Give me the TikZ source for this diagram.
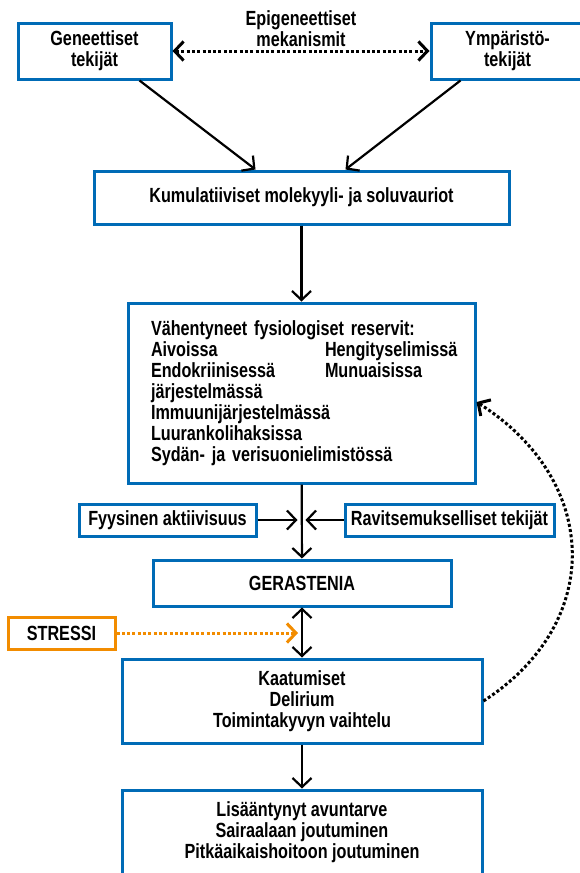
\documentclass[tikz,border=0pt]{standalone}
\usepackage{fontspec}
\setmainfont{Liberation Sans}[FakeStretch=0.79]
\usetikzlibrary{arrows.meta,positioning}
\definecolor{sininen}{RGB}{0,107,182}
\definecolor{oranssi}{RGB}{242,140,0}
\begin{document}
\begin{tikzpicture}[
	x=1pt,y=-1pt,
	>={Straight Barb[length=9pt,width=19pt]},
	line width=2.2pt,
	font=\fontsize{20.5}{21}\selectfont\bfseries,
	laatikko/.style={draw=sininen,line width=3pt,fill=white,align=center,inner sep=0pt},
	pisteet/.style={line width=3pt,dash pattern=on 3pt off 2.3pt}
	]
	\useasboundingbox (0,0) rectangle (579,873);
	\node[laatikko,minimum width=153,minimum height=56] (gen) at (94.5,51) {Geneettiset\\tekijät};
	\node[laatikko,minimum width=153,minimum height=56] (ymp) at (507.5,51) {Ympäristö-\\tekijät};
	\node[align=center] (epi) at (301,28.5) {Epigeneettiset\\mekanismit};
	\draw[<->,pisteet] (gen) -- (ymp);
	\node[laatikko,minimum width=415,minimum height=53] (kum) at (301.5,197.5) {Kumulatiiviset molekyyli- ja soluvauriot};
	\draw[->] ([xshift=-33]gen.south east) -- ([xshift=-46]kum.north);
	\draw[->] ([xshift=31]ymp.south west) -- ([xshift=44]kum.north);
	\node[laatikko,minimum width=347,minimum height=180,align=left,text width=301,inner xsep=23] (res) at (301.5,393) {Vähentyneet fysiologiset reservit:\\
		\makebox[174pt][l]{Aivoissa}Hengityselimissä\\
		\makebox[174pt][l]{Endokriinisessä}Munuaisissa\\
		järjestelmässä\\
		Immuunijärjestelmässä\\
		Luurankolihaksissa\\
		Sydän- ja verisuonielimistössä};
	\draw[->] (kum) -- (res);
	\node[laatikko,minimum width=177,minimum height=32] (fyy) at (167.5,520) {Fyysinen aktiivisuus};
	\node[laatikko,minimum width=209,minimum height=32] (rav) at (449.5,520) {Ravitsemukselliset tekijät};
	\node[laatikko,minimum width=298,minimum height=46] (ger) at (302,583) {GERASTENIA};
	\coordinate (yhtyma) at (res.south |- fyy.east);
	\draw[->] (res) -- (ger);
	\draw[->,shorten >=4pt] (fyy) -- (yhtyma);
	\draw[->,shorten >=4pt] (rav) -- (yhtyma);
	\node[laatikko,draw=oranssi,minimum width=107,minimum height=32] (str) at (61.5,633) {STRESSI};
	\node[laatikko,minimum width=360,minimum height=84] (kaa) at (302,701) {Kaatumiset\\Delirium\\Toimintakyvyn vaihtelu};
	\coordinate (stressikohta) at (ger.south |- str.east);
	\draw[->,oranssi,pisteet,shorten >=4pt] (str) -- (stressikohta);
	\draw[<->] (ger) -- (kaa);
	\node[laatikko,minimum width=360,minimum height=84] (hoi) at (302,832) {Lisääntynyt avuntarve\\Sairaalaan joutuminen\\Pitkäaikaishoitoon joutuminen};
	\draw[->] (kaa) -- (hoi);
	\draw[->,pisteet] (kaa.east) .. controls +(122,-79) and +(123,78) .. ([yshift=-9]res.east);
\end{tikzpicture}
\end{document}
